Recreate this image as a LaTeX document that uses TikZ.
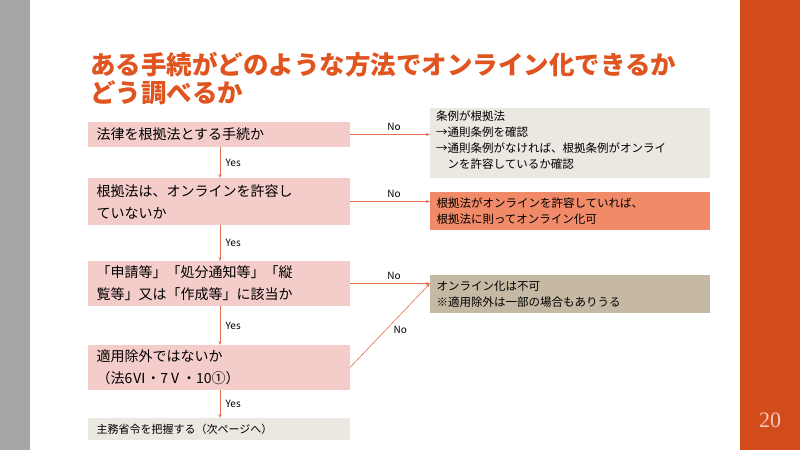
\documentclass[tikz,border=0pt]{standalone}
\usepackage{fontspec}
\setmainfont{Noto Sans CJK JP}
\newfontfamily\numfont{Liberation Serif}
\usetikzlibrary{arrows.meta}
\definecolor{pinkbox}{HTML}{F4CDCA}
\definecolor{graybox}{HTML}{EBE7E1}
\definecolor{orbox}{HTML}{F08A68}
\definecolor{tanbox}{HTML}{C6B9A4}
\definecolor{barorange}{HTML}{D24B1B}
\definecolor{titlec}{HTML}{E0541F}
\definecolor{arrc}{HTML}{E2704C}
\tikzset{
  ar/.style={arrc,line width=0.6pt,-{Stealth[length=4pt,width=3pt]}},
  lb/.style={text=black,font=\fontsize{10}{11}\selectfont}
}
\begin{document}
\begin{tikzpicture}[x=1pt,y=-1pt]
\useasboundingbox (0,0) rectangle (800,450);
\fill[white] (0,0) rectangle (800,450);
\fill[gray!70] (0,0) rectangle (30,450);
\fill[barorange] (740,0) rectangle (800,450);
\node[text=white!70!barorange,font=\numfont\fontsize{22}{22}\selectfont] (pg) at (770,420) {20};
\node[anchor=north west,align=left,text=titlec,font=\bfseries\fontsize{25.5}{28}\selectfont,inner sep=0pt] (title) at (90,52) {ある手続がどのような方法でオンライン化できるか\\どう調べるか};
% left boxes
\path[fill=pinkbox] (88,122) rectangle (350,147);
\node[anchor=west,font=\fontsize{14}{19}\selectfont] (t1) at (93,134.5) {法律を根拠法とする手続か};
\coordinate (b1r) at (350,134.5); \coordinate (b1b) at (220,147);
\path[fill=pinkbox] (88,178) rectangle (350,225);
\node[anchor=west,align=left,font=\fontsize{14}{22}\selectfont] (t2) at (93,201.5) {根拠法は、オンラインを許容し\\ていないか};
\coordinate (b2t) at (220,178); \coordinate (b2r) at (350,201.5); \coordinate (b2b) at (220,225);
\path[fill=pinkbox] (88,261) rectangle (350,306);
\node[anchor=west,align=left,font=\fontsize{14}{22}\selectfont] (t3) at (93,283.5) {「申請等」「処分通知等」「縦\\覧等」又は「作成等」に該当か};
\coordinate (b3t) at (220,261); \coordinate (b3r) at (350,283.5); \coordinate (b3b) at (220,306);
\path[fill=pinkbox] (88,345) rectangle (350,390);
\node[anchor=west,align=left,font=\fontsize{14}{22}\selectfont] (t4) at (93,367.5) {適用除外ではないか\\（法6Ⅵ・7Ⅴ・10①）};
\coordinate (b4t) at (220,345); \coordinate (b4r) at (350,367.5); \coordinate (b4b) at (220,390);
\path[fill=graybox] (88,418) rectangle (350,440);
\node[anchor=west,font=\fontsize{11}{14}\selectfont] (t5) at (93,429) {主務省令を把握する（次ページへ）};
\coordinate (b5t) at (220,418);
% right boxes
\path[fill=graybox] (430,108) rectangle (710,178);
\node[anchor=north west,align=left,font=\fontsize{11.5}{16}\selectfont,inner sep=0pt] (r1) at (436,111) {条例が根拠法\\→通則条例を確認\\→通則条例がなければ、根拠条例がオンライ\\\hspace*{1em}ンを許容しているか確認};
\coordinate (r1l) at (430,134.5);
\path[fill=orbox] (430,192) rectangle (710,230);
\node[anchor=west,align=left,font=\fontsize{11.5}{16}\selectfont] (r2) at (433,211) {根拠法がオンラインを許容していれば、\\根拠法に則ってオンライン化可};
\coordinate (r2l) at (430,201.5);
\path[fill=tanbox] (430,275) rectangle (710,313);
\node[anchor=west,align=left,font=\fontsize{11.5}{16}\selectfont] (r3) at (433,294) {オンライン化は不可\\※適用除外は一部の場合もありうる};
\coordinate (r3l) at (430,283.5);
% arrows
\draw[ar] (b1r) -- node[lb,above,pos=0.55] {No} (r1l);
\draw[ar] (b2r) -- node[lb,above,pos=0.55] {No} (r2l);
\draw[ar] (b3r) -- node[lb,above,pos=0.55] {No} (r3l);
\draw[ar] (b4r) -- node[lb,right,pos=0.45,xshift=4pt] {No} (r3l);
\draw[ar] (b1b) -- node[lb,right,xshift=2pt] {Yes} (b2t);
\draw[ar] (b2b) -- node[lb,right,xshift=2pt] {Yes} (b3t);
\draw[ar] (b3b) -- node[lb,right,xshift=2pt] {Yes} (b4t);
\draw[ar] (b4b) -- node[lb,right,xshift=2pt] {Yes} (b5t);
\end{tikzpicture}
\end{document}
